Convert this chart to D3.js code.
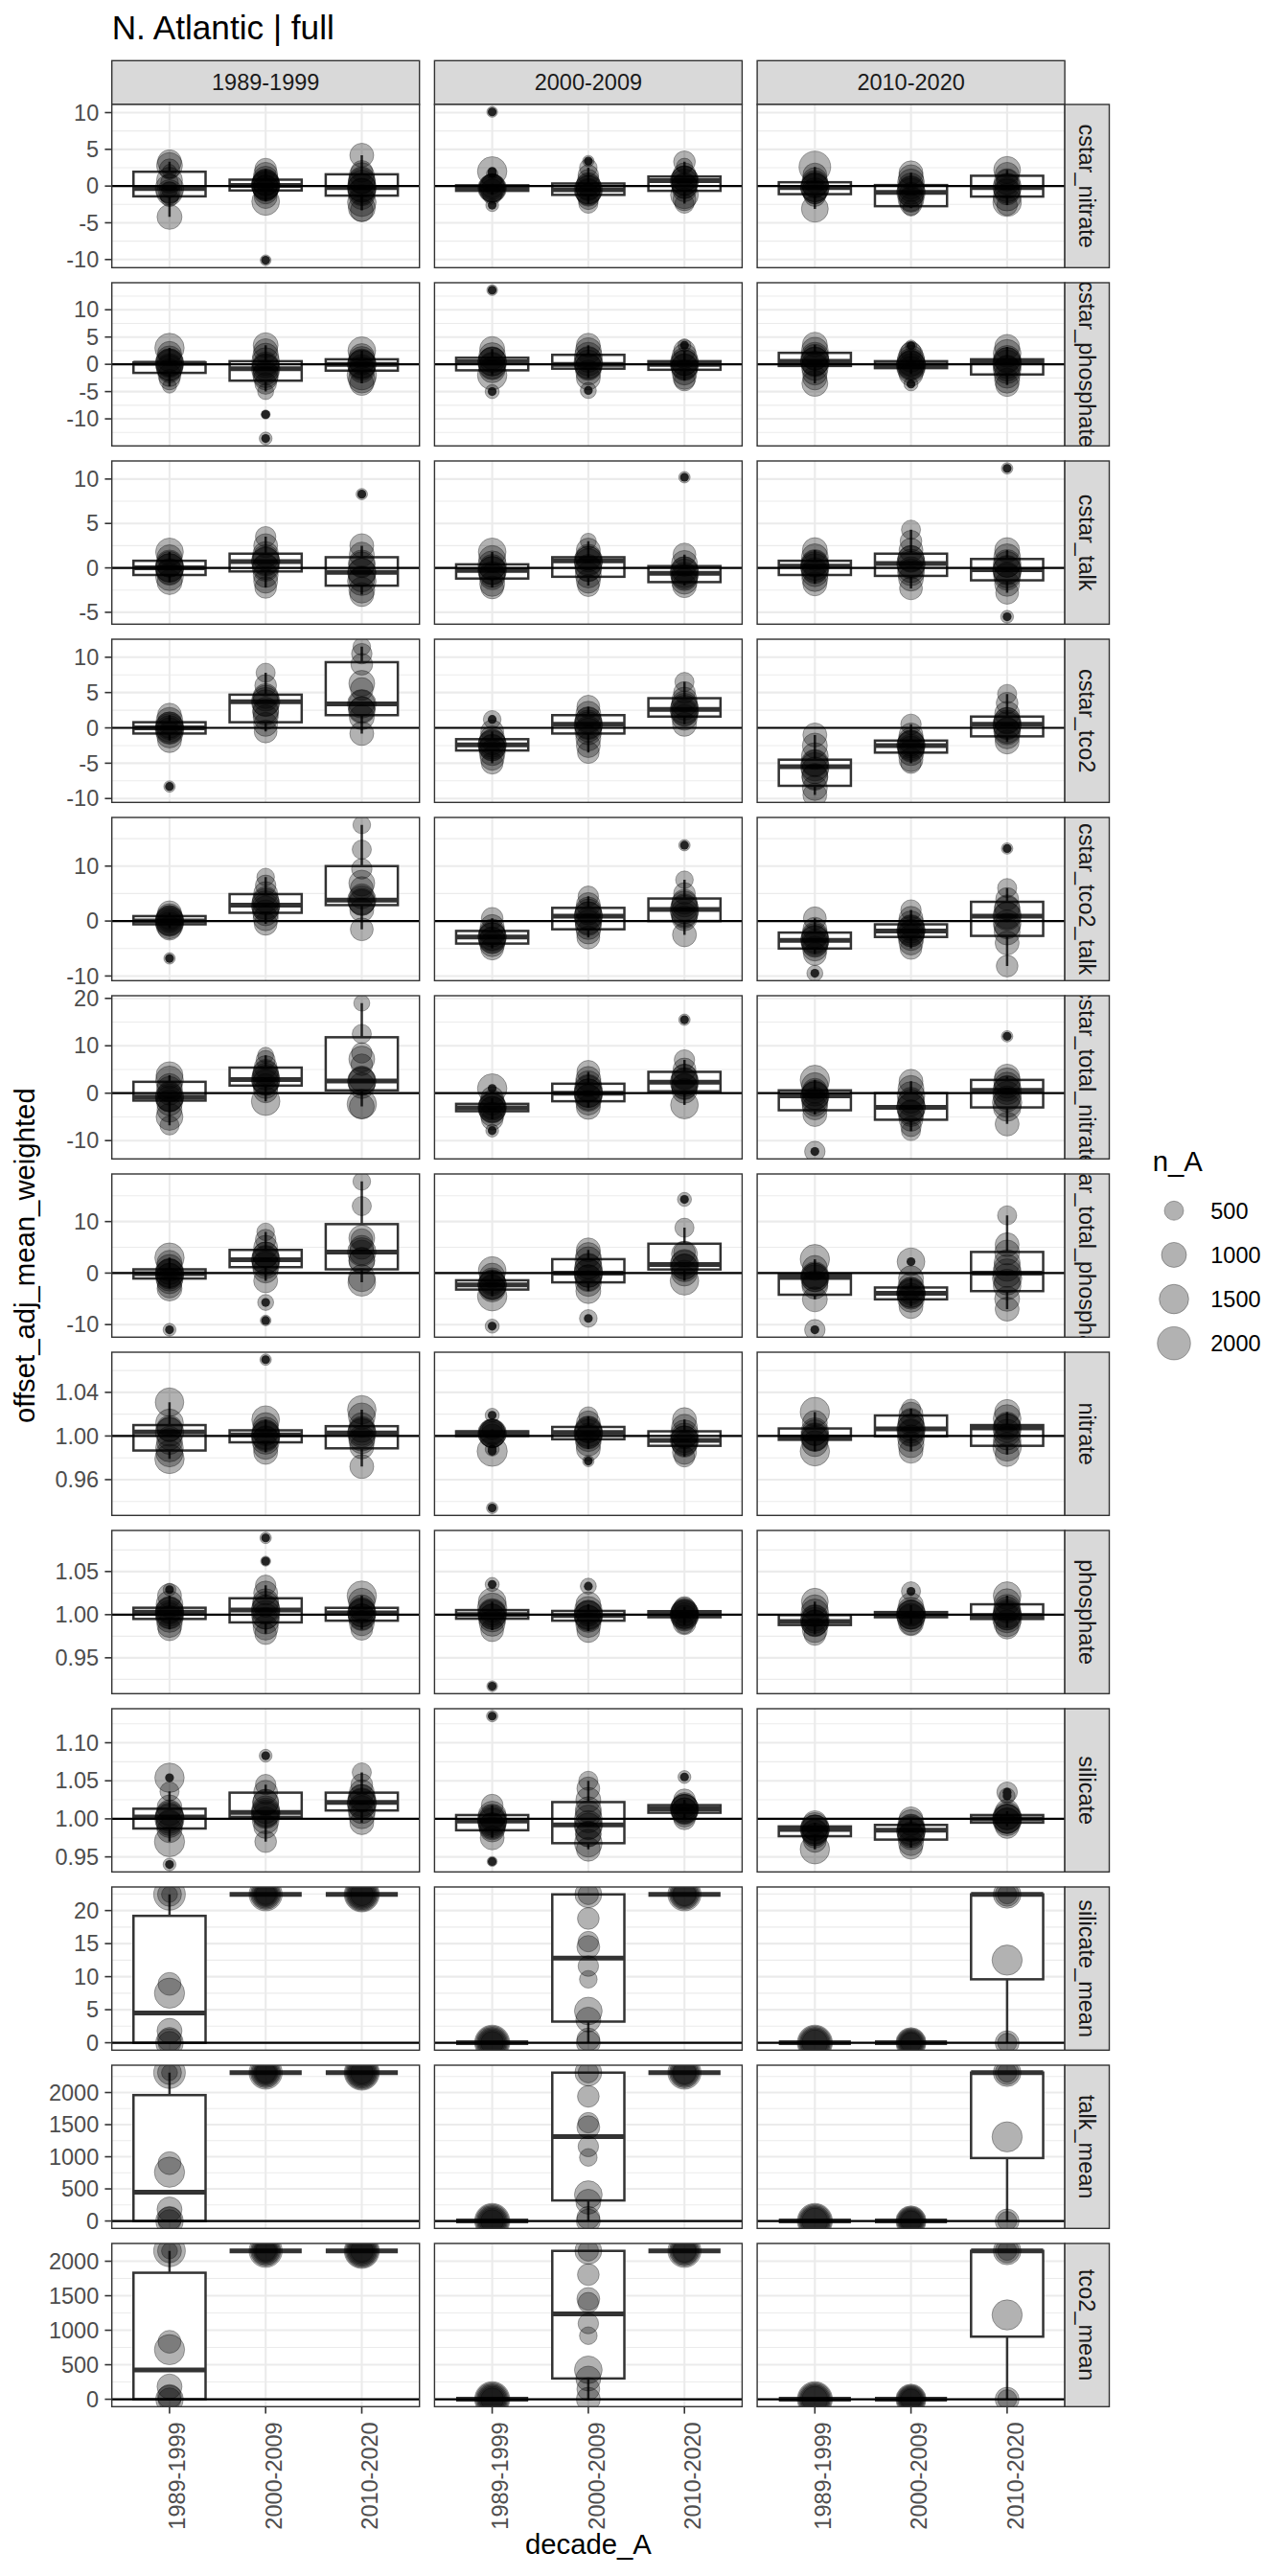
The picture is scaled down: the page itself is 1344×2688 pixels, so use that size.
<!DOCTYPE html>
<html>
<head>
<meta charset="utf-8">
<script src="https://cdn.jsdelivr.net/npm/d3@7"></script>
<style>
  body { margin: 0; background: #fff; }
  svg { display: block; }
  text { font-family: "Liberation Sans", Arial, Helvetica, sans-serif; }
</style>
</head>
<body>
<svg id="chart" width="1344" height="2688"></svg>
<script>
// ---- data --------------------------------------------------------------
const decades   = ['1989-1999', '2000-2009', '2010-2020'];
const variables = ['cstar_nitrate', 'cstar_phosphate', 'cstar_talk', 'cstar_tco2', 'cstar_tco2_talk',
                   'cstar_total_nitrate', 'cstar_total_phosphate', 'nitrate', 'phosphate', 'silicate',
                   'silicate_mean', 'talk_mean', 'tco2_mean'];
const refLines  = [0, 0, 0, 0, 0, 0, 0, 1, 1, 1, 0, 0, 0];
const yTicks    = [
  [-10, -5, 0, 5, 10], [-10, -5, 0, 5, 10], [-5, 0, 5, 10], [-10, -5, 0, 5, 10], [-10, 0, 10],
  [-10, 0, 10, 20], [-10, 0, 10], [0.96, 1.00, 1.04], [0.95, 1.00, 1.05], [0.95, 1.00, 1.05, 1.10],
  [0, 5, 10, 15, 20], [0, 500, 1000, 1500, 2000], [0, 500, 1000, 1500, 2000]
];
const sizeBreaks = [500, 1000, 1500, 2000];

// box quartiles [q1, median, q3]: facet column (decade_B) -> decade_A
// points [value, n_A]: facet column -> decade_A -> list
const cstar_nitrate_box = [
  [[-1.4, -0.35, 1.95], [-0.6, 0.1, 0.87], [-1.3, -0.2, 1.6]],
  [[-0.65, -0.3, 0.1], [-1.2, -0.5, 0.35], [-0.65, 0.74, 1.3]],
  [[-1.1, -0.22, 0.52], [-2.74, -0.87, 0.13], [-1.43, -0.2, 1.4]]
];
const cstar_nitrate_pts = [
  [[[3.3,900],[2.8,1100],[2.3,600],[2.0,200],[0.5,400],[-0.5,300],[-0.9,700],[-1.2,500],[-1.6,400],[-4.2,1000],[-0.35,1400],[-0.9,1100],[0.8,1100]],
   [[2.3,700],[1.6,900],[1.0,1000],[0.5,1200],[0.2,1400],[0,1300],[-0.3,1100],[-0.8,900],[-1.5,800],[-2.1,1300],[-10.1,80],[0.1,1400],[-0.25,1100],[0.5,1100]],
   [[4.2,900],[2.0,700],[1.5,1000],[0.8,1200],[0.3,1300],[-0.3,1400],[-0.8,1300],[-1.5,1000],[-2.2,1400],[-3.0,1200],[-3.3,800],[-0.2,1400],[-0.75,1100],[0.7,1100]]],
  [[[10.1,80],[2.0,1500],[1.7,100],[0.3,600],[0,900],[-0.3,1200],[-0.6,800],[-1.2,500],[-2.6,150],[-0.3,1400],[-0.45,1100],[-0.1,1100]],
   [[3.4,100],[2.5,400],[1.5,600],[0.8,700],[0.2,900],[-0.3,1000],[-0.7,1100],[-1.2,800],[-1.8,600],[-2.4,500],[-0.5,1400],[-0.85,1100],[-0.1,1100]],
   [[3.3,700],[2.7,300],[1.6,800],[1.0,1100],[0.5,1200],[0,1000],[-0.5,900],[-1.2,1300],[-1.8,800],[-2.4,500],[0.74,1400],[0.05,1100],[1.0,1100]]],
  [[[2.6,1800],[1.5,900],[0.8,1000],[0.3,1200],[-0.2,1400],[-0.8,900],[-1.3,700],[-3.1,1200],[-0.22,1400],[-0.65,1100],[0.15,1100]],
   [[1.8,900],[1.2,1000],[0.5,1200],[0,1100],[-0.6,1300],[-1.2,1000],[-1.8,900],[-2.5,700],[-3.0,300],[-0.87,1400],[-1.8,1100],[-0.35,1100]],
   [[2.2,1200],[1.6,900],[0.8,700],[0,1000],[-0.6,1100],[-1.5,1300],[-2.2,1400],[-2.6,600],[-0.2,1400],[-0.8,1100],[0.6,1100]]]
];

const cstar_phosphate_box = [
  [[-1.57, 0.2, 0.35], [-3.0, -0.8, 0.57], [-1.16, 0, 0.92]],
  [[-1.1, 0.47, 1.2], [-0.8, 0, 1.74], [-1.0, 0, 0.57]],
  [[-0.3, 0.57, 2.1], [-0.7, -0.1, 0.57], [-1.86, 0.46, 0.92]]
];
const cstar_phosphate_pts = [
  [[[3.0,1500],[2.0,900],[1.0,1100],[0.3,1300],[-0.5,1200],[-1.2,900],[-2.0,800],[-2.8,600],[-4.0,200],[0.2,1400],[-0.7,1100],[0.28,1100]],
   [[3.5,1000],[2.5,900],[1.5,1100],[0.5,1300],[-0.5,1200],[-1.5,1000],[-2.5,900],[-3.5,700],[-5.0,300],[-9.2,40],[-13.6,150],[-0.8,1400],[-1.9,1100],[-0.1,1100]],
   [[2.5,1300],[1.5,1000],[0.8,1200],[0,1400],[-1.0,1100],[-2.0,1500],[-2.8,1200],[-3.5,900],[0,1400],[-0.6,1100],[0.45,1100]]],
  [[[13.6,80],[2.8,1000],[1.5,1200],[0.5,1400],[-0.3,1300],[-1.0,1100],[-2.0,1500],[-5.0,200],[0.47,1400],[-0.3,1100],[0.85,1100]],
   [[3.5,900],[2.5,1100],[1.5,1300],[0.5,1400],[-0.5,1200],[-1.5,1000],[-2.5,900],[-4.8,300],[0,1400],[-0.4,1100],[0.9,1100]],
   [[3.5,150],[2.5,700],[1.5,1000],[0.5,1300],[-0.5,1200],[-1.5,1000],[-2.5,800],[-3.0,600],[0,1400],[-0.5,1100],[0.3,1100]]],
  [[[3.6,1000],[2.5,1200],[1.5,1300],[0.5,1400],[-0.5,1200],[-1.5,1000],[-2.5,900],[-3.5,1100],[0.57,1400],[0.1,1100],[1.3,1100]],
   [[3.4,100],[2.3,600],[1.8,900],[1.0,1200],[0.3,1400],[-0.3,1500],[-1.0,1200],[-1.8,900],[-3.6,200],[-0.1,1400],[-0.4,1100],[0.25,1100]],
   [[3.2,1000],[2.0,1300],[1.0,1200],[0,1400],[-1.0,1300],[-2.0,1100],[-3.0,1000],[-3.8,800],[0.46,1400],[-0.7,1100],[0.7,1100]]]
];

const cstar_talk_box = [
  [[-0.8, 0, 0.8], [-0.4, 0.7, 1.6], [-2.0, -0.5, 1.2]],
  [[-1.2, -0.3, 0.4], [-1.0, 0.8, 1.2], [-1.6, -0.6, 0.2]],
  [[-0.8, 0.2, 0.8], [-0.9, 0.5, 1.6], [-1.4, -0.2, 1.0]]
];
const cstar_talk_pts = [
  [[[1.8,1300],[1.2,1000],[0.5,1200],[0,1400],[-0.5,1100],[-1.0,1300],[-1.6,1000],[0,1400],[-0.4,1100],[0.4,1100]],
   [[3.5,600],[2.5,900],[1.5,1100],[0.8,1300],[0,1200],[-0.8,1000],[-1.5,900],[-2.2,700],[0.7,1400],[0.15,1100],[1.15,1100]],
   [[8.3,100],[2.5,900],[1.5,1000],[0.5,1200],[-0.5,1300],[-1.5,1400],[-2.5,1100],[-3.0,900],[-0.5,1400],[-1.25,1100],[0.35,1100]]],
  [[[1.8,1300],[1.0,1200],[0.3,1400],[-0.3,1300],[-1.0,1100],[-1.8,1000],[-2.2,800],[-0.3,1400],[-0.75,1100],[0.05,1100]],
   [[3.0,300],[2.0,900],[1.2,1100],[0.6,1300],[0,1200],[-0.8,1100],[-1.5,900],[-2.0,700],[0.8,1400],[-0.1,1100],[1.0,1100]],
   [[10.2,100],[1.5,800],[0.5,1100],[-0.3,1300],[-0.9,1200],[-1.5,1100],[-2.0,900],[-0.6,1400],[-1.1,1100],[-0.2,1100]]],
  [[[2.0,1000],[1.2,1200],[0.5,1300],[0,1400],[-0.6,1200],[-1.2,1100],[-1.8,900],[0.2,1400],[-0.3,1100],[0.5,1100]],
   [[4.3,500],[3.0,700],[2.0,900],[1.0,1200],[0.3,1300],[-0.5,1200],[-1.2,1000],[-2.3,800],[0.5,1400],[-0.2,1100],[1.05,1100]],
   [[11.2,100],[2.0,1000],[1.2,1200],[0.5,1300],[-0.3,1400],[-1.0,1200],[-1.8,1000],[-2.8,800],[-5.5,150],[-0.2,1400],[-0.8,1100],[0.4,1100]]]
];

const cstar_tco2_box = [
  [[-0.8, 0, 0.8], [0.8, 3.7, 4.7], [1.8, 3.4, 9.3]],
  [[-3.2, -2.4, -1.6], [-0.8, 0.5, 1.8], [1.6, 2.6, 4.2]],
  [[-8.2, -5.5, -4.5], [-3.5, -2.5, -1.8], [-1.2, 0.5, 1.6]]
];
const cstar_tco2_pts = [
  [[[1.8,900],[1.0,1200],[0.3,1300],[-0.3,1400],[-1.0,1100],[-1.8,900],[-8.3,100],[0,1400],[-0.4,1100],[0.4,1100]],
   [[7.8,500],[6.0,700],[4.5,1000],[3.5,1200],[2.5,1100],[1.5,1000],[0.5,900],[-0.5,800],[3.7,1400],[2.2,1100],[4.2,1100]],
   [[11.5,400],[10.5,600],[9.0,700],[5.5,800],[3.5,1100],[2.5,1200],[1.5,1000],[-0.8,900],[3.4,1400],[2.6,1100],[6.3,1100]]],
  [[[1.2,400],[-0.5,800],[-1.5,1000],[-2.2,1300],[-2.8,1200],[-3.5,1100],[-4.3,900],[-5.0,700],[-2.4,1400],[-2.8,1100],[-2.0,1100]],
   [[3.0,800],[2.0,1000],[1.0,1200],[0.3,1300],[-0.5,1200],[-1.5,1000],[-2.5,900],[-3.5,700],[0.5,1400],[-0.15,1100],[1.15,1100]],
   [[6.5,500],[5.0,700],[4.0,1000],[3.0,1200],[2.2,1300],[1.5,1100],[0.5,900],[2.6,1400],[2.1,1100],[3.4,1100]]],
  [[[-1.0,900],[-2.5,1000],[-4.0,1200],[-5.0,1300],[-6.0,1200],[-7.0,1100],[-8.5,1000],[-9.5,900],[-5.5,1400],[-6.85,1100],[-5.0,1100]],
   [[0.5,600],[-1.0,900],[-1.8,1100],[-2.3,1300],[-2.8,1200],[-3.5,1100],[-4.5,900],[-5.0,600],[-2.5,1400],[-3.0,1100],[-2.15,1100]],
   [[4.8,500],[3.5,700],[2.0,1000],[1.0,1200],[0.3,1300],[-0.5,1200],[-1.2,1000],[-2.0,900],[0.5,1400],[-0.35,1100],[1.05,1100]]]
];

const cstar_tco2_talk_box = [
  [[-0.6, 0, 0.9], [1.5, 2.9, 4.9], [2.9, 3.8, 10.0]],
  [[-4.1, -2.9, -1.8], [-1.5, 0.9, 2.4], [0, 2.1, 4.1]],
  [[-5.0, -3.5, -2.1], [-2.9, -1.8, -0.6], [-2.7, 0.9, 3.5]]
];
const cstar_tco2_talk_pts = [
  [[[1.5,900],[0.8,1100],[0.3,1300],[-0.2,1400],[-0.8,1200],[-1.3,900],[-6.8,100],[0,1400],[-0.3,1100],[0.45,1100]],
   [[8.0,400],[6.5,600],[5.0,900],[3.5,1200],[2.5,1300],[1.5,1100],[0.5,1000],[-0.5,800],[2.9,1400],[2.2,1100],[3.9,1100]],
   [[17.5,400],[13.0,500],[9.5,600],[6.0,800],[4.5,1000],[3.5,1200],[2.0,900],[-1.5,800],[3.8,1400],[3.35,1100],[6.9,1100]]],
  [[[0.5,700],[-1.0,900],[-2.0,1100],[-2.8,1300],[-3.5,1200],[-4.2,1000],[-5.0,800],[-2.9,1400],[-3.5,1100],[-2.35,1100]],
   [[4.5,600],[3.0,900],[2.0,1100],[1.0,1300],[0,1200],[-1.0,1100],[-2.0,900],[-3.0,800],[0.9,1400],[-0.3,1100],[1.65,1100]],
   [[13.8,100],[7.5,400],[5.0,700],[3.5,1000],[2.5,1200],[1.5,1300],[0.5,1000],[-2.5,900],[2.1,1400],[1.05,1100],[3.1,1100]]],
  [[[0.5,800],[-1.5,900],[-2.5,1100],[-3.3,1300],[-4.0,1200],[-5.0,1000],[-6.0,800],[-9.5,300],[-3.5,1400],[-4.25,1100],[-2.8,1100]],
   [[2.0,600],[0.5,900],[-0.5,1100],[-1.5,1300],[-2.2,1200],[-3.0,1100],[-4.0,900],[-5.0,700],[-1.8,1400],[-2.35,1100],[-1.2,1100]],
   [[13.2,100],[6.0,500],[4.0,800],[2.5,1000],[1.0,1200],[-0.5,1300],[-2.0,1100],[-4.0,900],[-8.2,700],[0.9,1400],[-0.9,1100],[2.2,1100]]]
];

const cstar_total_nitrate_box = [
  [[-1.56, -0.8, 2.4], [1.6, 2.9, 5.4], [0.6, 2.55, 11.8]],
  [[-3.8, -3.1, -2.25], [-1.7, 0, 2.0], [0.4, 2.3, 4.5]],
  [[-3.6, -0.55, 0.6], [-5.6, -3.0, 0], [-3.0, 0.6, 2.8]]
];
const cstar_total_nitrate_pts = [
  [[[3.8,1200],[2.8,1300],[1.5,1000],[0,900],[-1.0,1300],[-2.0,1100],[-3.5,1000],[-5.0,1200],[-6.8,500],[-0.8,1400],[-1.2,1100],[0.8,1100]],
   [[8.0,300],[7.0,500],[5.5,800],[4.5,1000],[3.5,1200],[2.5,1300],[1.5,1000],[0.5,900],[-1.7,1400],[2.9,1400],[2.25,1100],[4.15,1100]],
   [[19.0,300],[12.5,500],[8.5,600],[6.0,700],[3.0,1100],[2.5,1300],[-2.3,1500],[-2.8,1000],[2.55,1400],[1.6,1100],[7.2,1100]]],
  [[[1.0,1500],[-1.0,800],[-2.0,1000],[-2.8,1300],[-3.5,1200],[-4.5,900],[-5.5,700],[-7.9,150],[-3.1,1400],[-3.45,1100],[-2.7,1100]],
   [[4.5,800],[3.0,1000],[2.0,1100],[1.0,1300],[0,1400],[-1.0,1200],[-2.0,1000],[-3.0,900],[0,1400],[-0.85,1100],[1.0,1100]],
   [[15.5,100],[7.0,600],[5.0,800],[3.5,1000],[2.5,1200],[1.5,1100],[0.5,1000],[-2.5,1300],[2.3,1400],[1.35,1100],[3.4,1100]]],
  [[[2.8,1500],[1.5,1200],[0.5,1000],[-0.5,1300],[-1.5,1100],[-3.0,1000],[-4.5,900],[-12.3,600],[-0.55,1400],[-2.1,1100],[0.0,1100]],
   [[2.5,900],[1.0,1100],[-0.5,1300],[-2.0,1200],[-3.0,1400],[-4.0,1000],[-5.5,900],[-7.0,600],[-8.0,500],[-3.0,1400],[-4.3,1100],[-1.5,1100]],
   [[12.0,100],[3.5,1000],[2.5,1200],[1.0,1100],[-0.5,1400],[-2.0,1500],[-3.0,1300],[-6.5,900],[0.6,1400],[-1.2,1100],[1.7,1100]]]
];

const cstar_total_phosphate_box = [
  [[-1.06, -0.1, 0.73], [1.15, 2.6, 4.5], [0.73, 4.1, 9.5]],
  [[-3.2, -2.3, -1.4], [-1.8, 0, 2.7], [0.7, 1.65, 5.7]],
  [[-4.2, -0.85, -0.35], [-5.1, -3.9, -2.8], [-3.5, 0, 4.1]]
];
const cstar_total_phosphate_pts = [
  [[[3.0,1500],[2.0,1000],[1.0,1200],[0,1400],[-0.8,1300],[-1.5,1100],[-2.5,900],[-3.0,1000],[-11.0,150],[-0.1,1400],[-0.6,1100],[0.3,1100]],
   [[8.0,400],[6.5,600],[5.0,900],[3.5,1100],[2.5,1300],[1.5,1200],[0.5,1000],[-1.5,900],[-5.7,300],[-9.2,80],[2.6,1400],[1.9,1100],[3.55,1100]],
   [[17.8,400],[13.0,500],[6.5,700],[5.0,900],[4.0,1000],[2.5,1100],[-1.0,1200],[-1.8,1300],[4.1,1400],[2.4,1100],[6.8,1100]]],
  [[[0.5,1300],[-0.5,1000],[-1.5,1100],[-2.3,1400],[-3.0,1200],[-4.5,1500],[-10.3,200],[-2.3,1400],[-2.75,1100],[-1.85,1100]],
   [[4.5,900],[3.5,1000],[2.5,1200],[1.0,1300],[0,1400],[-1.0,1200],[-2.0,1100],[-3.5,1000],[-8.8,400],[0,1400],[-0.9,1100],[1.35,1100]],
   [[14.3,200],[8.8,500],[4.0,700],[2.0,1200],[1.0,1300],[0,1100],[-1.5,1400],[1.65,1400],[1.2,1100],[3.7,1100]]],
  [[[2.7,1500],[1.0,1000],[-0.5,1300],[-1.0,1200],[-2.0,1100],[-5.1,1000],[-11.0,600],[-0.85,1400],[-2.5,1100],[-0.6,1100]],
   [[2.2,1300],[-1.0,1000],[-2.5,1100],[-3.5,1300],[-4.0,1400],[-5.0,1200],[-6.5,900],[-3.9,1400],[-4.5,1100],[-3.35,1100]],
   [[11.2,500],[5.5,900],[4.0,1000],[1.0,1200],[-1.0,1500],[-2.5,1300],[-5.0,1000],[-7.0,900],[0,1400],[-1.75,1100],[2.05,1100]]]
];

const nitrate_box = [
  [[0.9867, 1.0037, 1.0100], [0.9942, 1.001, 1.0052], [0.9887, 1.0027, 1.009]],
  [[1.000, 1.0027, 1.0043], [0.997, 1.0033, 1.0083], [0.991, 0.996, 1.0043]],
  [[0.9965, 0.999, 1.0069], [0.9997, 1.0065, 1.0188], [0.991, 1.0073, 1.010]]
];
const nitrate_pts = [
  [[[1.031,1400],[1.012,1300],[1.006,1000],[0.998,900],[0.989,1300],[0.984,1200],[0.979,1500],[1.0037,1400],[0.995,1100],[1.007,1100]],
   [[1.070,100],[1.015,1300],[1.010,1000],[1.005,1200],[1.000,1400],[0.996,1300],[0.990,1000],[0.985,900],[1.001,1400],[0.9976,1100],[1.003,1100]],
   [[1.024,1400],[1.018,1200],[1.010,1000],[1.004,1300],[0.998,1100],[0.990,900],[0.972,900],[1.0027,1400],[0.9957,1100],[1.006,1100]]],
  [[[1.019,200],[1.006,600],[1.004,1000],[1.002,1300],[1.000,900],[0.988,200],[0.986,1600],[0.934,100],[1.0027,1400],[1.0013,1100],[1.0035,1100]],
   [[1.018,500],[1.012,900],[1.006,1200],[1.002,1400],[0.998,1200],[0.993,1000],[0.988,900],[0.977,100],[1.0033,1400],[1.0,1100],[1.0058,1100]],
   [[1.015,900],[1.008,1100],[1.002,1300],[0.997,1200],[0.992,1000],[0.985,900],[0.981,600],[0.996,1400],[0.9935,1100],[1.0,1100]]],
  [[[1.022,1500],[1.012,1000],[1.004,1300],[0.999,1200],[0.993,1100],[0.986,1500],[0.999,1400],[0.9978,1100],[1.003,1100]],
   [[1.025,500],[1.020,900],[1.014,1000],[1.008,1200],[1.003,1300],[0.998,1200],[0.992,1100],[0.986,900],[1.0065,1400],[1.003,1100],[1.0125,1100]],
   [[1.022,1000],[1.016,1300],[1.010,1100],[1.003,1200],[0.996,1300],[0.990,1400],[0.983,900],[1.0073,1400],[0.999,1100],[1.0085,1100]]]
];

const phosphate_box = [
  [[0.995, 1.003, 1.008], [0.991, 1.0053, 1.019], [0.993, 1.002, 1.0079]],
  [[0.9953, 1.0, 1.0053], [0.993, 0.999, 1.0043], [0.997, 1.0005, 1.004]],
  [[0.988, 0.992, 0.9995], [0.997, 1.0, 1.003], [0.995, 0.999, 1.012]]
];
const phosphate_pts = [
  [[[1.029,150],[1.022,900],[1.012,1200],[1.005,1300],[1.000,1400],[0.995,1200],[0.988,1000],[0.983,800],[1.003,1400],[0.999,1100],[1.0055,1100]],
   [[1.089,100],[1.062,60],[1.034,600],[1.025,900],[1.015,1100],[1.007,1300],[1.000,1400],[0.993,1200],[0.985,1000],[0.978,700],[1.0053,1400],[0.998,1100],[1.012,1100]],
   [[1.022,1500],[1.015,1200],[1.008,1100],[1.002,1300],[0.997,1200],[0.990,1000],[0.983,700],[1.002,1400],[0.9975,1100],[1.005,1100]]],
  [[[1.035,200],[1.015,1300],[1.008,1500],[1.002,1400],[0.996,1300],[0.990,1100],[0.982,800],[0.917,80],[1.0,1400],[0.9977,1100],[1.0027,1100]],
   [[1.033,300],[1.012,1000],[1.005,1300],[1.000,1400],[0.995,1200],[0.988,1000],[0.981,800],[0.999,1400],[0.996,1100],[1.0017,1100]],
   [[1.009,600],[1.005,1000],[1.002,1300],[0.999,1400],[0.996,1100],[0.990,800],[0.988,400],[1.0005,1400],[0.9988,1100],[1.0022,1100]]],
  [[[1.015,1200],[1.008,1100],[1.002,1300],[0.995,1400],[0.990,1200],[0.982,1000],[0.977,700],[0.992,1400],[0.99,1100],[0.9958,1100]],
   [[1.027,500],[1.011,1000],[1.004,1300],[1.000,1500],[0.996,1300],[0.990,1000],[0.989,700],[1.0,1400],[0.9985,1100],[1.0015,1100]],
   [[1.022,1300],[1.015,1100],[1.008,1200],[1.001,1400],[0.996,1500],[0.990,1200],[0.985,800],[0.999,1400],[0.997,1100],[1.0055,1100]]]
];

const silicate_box = [
  [[0.9873, 1.0023, 1.0133], [1.0026, 1.0085, 1.0344], [1.011, 1.0217, 1.0344]],
  [[0.985, 0.997, 1.005], [0.968, 0.992, 1.022], [1.008, 1.013, 1.018]],
  [[0.9772, 0.986, 0.990], [0.9727, 0.985, 0.992], [0.995, 1.000, 1.005]]
];
const silicate_pts = [
  [[[1.054,1500],[1.036,500],[1.015,1000],[1.005,1300],[1.000,1500],[0.993,1200],[0.985,1000],[0.970,1600],[0.940,150],[1.0023,1400],[0.995,1100],[1.008,1100]],
   [[1.083,150],[1.045,600],[1.035,900],[1.022,1100],[1.012,1300],[1.006,1400],[0.998,1200],[0.990,900],[0.970,700],[1.0085,1400],[1.0055,1100],[1.0215,1100]],
   [[1.061,500],[1.045,700],[1.035,1000],[1.027,1300],[1.020,1500],[1.012,1300],[1.004,1100],[0.995,900],[1.0217,1400],[1.0163,1100],[1.028,1100]]],
  [[[1.135,100],[1.018,700],[1.005,1300],[1.000,1500],[0.995,1400],[0.990,1200],[0.986,1000],[0.975,900],[0.944,60],[0.997,1400],[0.991,1100],[1.001,1100]],
   [[1.050,500],[1.040,800],[1.025,1000],[1.012,1100],[1.000,1300],[0.990,1200],[0.980,1000],[0.968,1300],[0.960,900],[0.992,1400],[0.98,1100],[1.007,1100]],
   [[1.055,150],[1.025,700],[1.018,1000],[1.014,1300],[1.010,1200],[1.005,900],[1.000,700],[1.013,1400],[1.0105,1100],[1.0155,1100]]],
  [[[0.995,900],[0.990,1300],[0.986,1500],[0.982,1200],[0.978,1000],[0.971,800],[0.960,1500],[0.986,1400],[0.9816,1100],[0.988,1100]],
   [[1.000,900],[0.995,1100],[0.988,1300],[0.983,1400],[0.977,1200],[0.968,1000],[0.962,800],[0.985,1400],[0.979,1100],[0.9885,1100]],
   [[1.035,600],[1.030,300],[1.010,900],[1.004,1300],[1.000,1500],[0.996,1300],[0.990,900],[1.0,1400],[0.9975,1100],[1.0025,1100]]]
];

const silicate_mean_box = [
  [[0, 4.5, 19.2], [22.45, 22.45, 22.45], [22.45, 22.45, 22.45]],
  [[0, 0, 0], [3.2, 12.8, 22.45], [22.45, 22.45, 22.45]],
  [[0, 0, 0], [0, 0, 0], [9.6, 22.45, 22.45]]
];
const silicate_mean_pts = [
  [[[22.45,1800],[22.45,900],[22.45,300],[8.9,800],[7.5,1600],[1.8,1000],[0.5,900],[0,1300],[0,800]],
   [[22.45,2000],[22.45,1600],[22.45,1300],[22.45,1000],[22.45,800],[22.45,600]],
   [[22.45,2300],[22.45,2000],[22.45,1700],[22.45,1400],[22.45,1100],[22.45,800]]],
  [[[0,2300],[0,2000],[0,1700],[0,1400],[0,1100],[0,800]],
   [[22.45,1200],[22.45,600],[18.8,700],[15.3,600],[14.5,800],[11.6,600],[9.6,400],[4.8,1300],[3.5,1000],[0.5,800],[0,900]],
   [[22.45,2000],[22.45,1600],[22.45,1300],[22.45,1000],[22.45,800]]],
  [[[0,2300],[0,2000],[0,1700],[0,1400],[0,1100]],
   [[0,1600],[0,1400],[0,1200],[0,1000],[0,800],[0,600]],
   [[22.45,1300],[22.45,900],[22.45,500],[12.5,1600],[0,900],[0,500]]]
];

const talk_mean_box = [
  [[0, 450, 1960], [2310, 2310, 2310], [2310, 2310, 2310]],
  [[0, 0, 0], [320, 1315, 2310], [2310, 2310, 2310]],
  [[0, 0, 0], [0, 0, 0], [980, 2310, 2310]]
];
const talk_mean_pts = [
  [[[2310,1800],[2310,900],[2310,300],[900,800],[760,1600],[180,1000],[40,900],[0,1300],[0,800]],
   [[2310,2000],[2310,1600],[2310,1300],[2310,1000],[2310,800],[2310,600]],
   [[2310,2300],[2310,2000],[2310,1700],[2310,1400],[2310,1100],[2310,800]]],
  [[[0,2300],[0,2000],[0,1700],[0,1400],[0,1100],[0,800]],
   [[2310,1200],[2310,600],[1940,700],[1530,600],[1460,800],[1160,600],[990,400],[410,1300],[300,1000],[50,800],[0,900]],
   [[2310,2000],[2310,1600],[2310,1300],[2310,1000],[2310,800]]],
  [[[0,2300],[0,2000],[0,1700],[0,1400],[0,1100]],
   [[0,1600],[0,1400],[0,1200],[0,1000],[0,800],[0,600]],
   [[2310,1300],[2310,900],[2310,500],[1310,1600],[0,900],[0,500]]]
];

const tco2_mean_box = [
  [[0, 426, 1833], [2150, 2150, 2150], [2150, 2150, 2150]],
  [[0, 0, 0], [301, 1236, 2150], [2150, 2150, 2150]],
  [[0, 0, 0], [0, 0, 0], [907, 2150, 2150]]
];
const tco2_mean_pts = [
  [[[2150,1800],[2150,900],[2150,300],[833,800],[718,1600],[185,1000],[40,900],[0,1300],[0,800]],
   [[2150,2000],[2150,1600],[2150,1300],[2150,1000],[2150,800],[2150,600]],
   [[2150,2300],[2150,2000],[2150,1700],[2150,1400],[2150,1100],[2150,800]]],
  [[[0,2300],[0,2000],[0,1700],[0,1400],[0,1100],[0,800]],
   [[2150,1200],[2150,600],[1806,700],[1454,800],[1400,600],[1097,600],[921,400],[426,1300],[300,1000],[148,800],[0,900]],
   [[2150,2000],[2150,1600],[2150,1300],[2150,1000],[2150,800]]],
  [[[0,2300],[0,2000],[0,1700],[0,1400],[0,1100]],
   [[0,1600],[0,1400],[0,1200],[0,1000],[0,800],[0,600]],
   [[2150,1300],[2150,900],[2150,500],[1222,1600],[0,900],[0,500]]]
];

// lookup tables built from the arrays above
const boxData = {
  cstar_nitrate: cstar_nitrate_box, cstar_phosphate: cstar_phosphate_box, cstar_talk: cstar_talk_box,
  cstar_tco2: cstar_tco2_box, cstar_tco2_talk: cstar_tco2_talk_box, cstar_total_nitrate: cstar_total_nitrate_box,
  cstar_total_phosphate: cstar_total_phosphate_box, nitrate: nitrate_box, phosphate: phosphate_box,
  silicate: silicate_box, silicate_mean: silicate_mean_box, talk_mean: talk_mean_box, tco2_mean: tco2_mean_box
};
const pointData = {
  cstar_nitrate: cstar_nitrate_pts, cstar_phosphate: cstar_phosphate_pts, cstar_talk: cstar_talk_pts,
  cstar_tco2: cstar_tco2_pts, cstar_tco2_talk: cstar_tco2_talk_pts, cstar_total_nitrate: cstar_total_nitrate_pts,
  cstar_total_phosphate: cstar_total_phosphate_pts, nitrate: nitrate_pts, phosphate: phosphate_pts,
  silicate: silicate_pts, silicate_mean: silicate_mean_pts, talk_mean: talk_mean_pts, tco2_mean: tco2_mean_pts
};

// ---- layout ------------------------------------------------------------
const layout = { left: 116.7, top: 109, pw: 321, ph: 170.3, gx: 15.7, gy: 15.7, stripH: 45.7, stripW: 46.4 };
const C = { border: '#333333', grid: '#ebebeb', strip: '#d9d9d9', tick: '#4d4d4d', text: '#1a1a1a' };

let svg = d3.select('#chart');
let defs = svg.append('defs');
defs.append('clipPath').attr('id', 'panelClip')
    .append('rect').attr('width', layout.pw).attr('height', layout.ph);
defs.append('clipPath').attr('id', 'stripClip')
    .append('rect').attr('width', layout.stripW).attr('height', layout.ph);

let x = d3.scalePoint().domain(decades).range([0, layout.pw]).padding(0.6);
let boxW = 0.75 * x.step();
let rSize = d3.scaleSqrt().domain([0, 2000]).range([0, 14.6]);
let radius = n => 2.7 + rSize(n);

let panelX = c => layout.left + c * (layout.pw + layout.gx);
let panelY = r => layout.top + r * (layout.ph + layout.gy);
let fmt = (ticks) => ticks.some(t => !Number.isInteger(t)) ? (v => v.toFixed(2)) : (v => String(v));

/**
 * ggplot style box statistics: whiskers run to the furthest point inside 1.5 IQR
 */
function boxStats (q, pts) {
  let [q1, med, q3] = q,
      iqr = q3 - q1,
      loF = q1 - 1.5 * iqr - 1e-9,
      hiF = q3 + 1.5 * iqr + 1e-9,
      inside = pts.map(p => p[0]).filter(v => v >= loF && v <= hiF);
  return {
    q1, med, q3,
    lo : Math.min(q1, d3.min(inside) ?? q1),
    hi : Math.max(q3, d3.max(inside) ?? q3),
    out: pts.map(p => p[0]).filter(v => v < loF || v > hiF)
  };
}

// Title
svg.append('text').attr('x', layout.left).attr('y', 41)
   .attr('font-size', 35.2).attr('fill', '#000').text('N. Atlantic | full');

// Column strips
decades.forEach((d, c) => {
  let g = svg.append('g').attr('transform', `translate(${panelX(c)},${layout.top - layout.stripH})`);
  g.append('rect').attr('width', layout.pw).attr('height', layout.stripH)
   .attr('fill', C.strip).attr('stroke', C.border).attr('stroke-width', 1.4);
  g.append('text').attr('x', layout.pw / 2).attr('y', layout.stripH / 2).attr('dy', '0.35em')
   .attr('text-anchor', 'middle').attr('font-size', 23.5).attr('fill', C.text).text(d);
});

variables.forEach((v, r) => {
  let boxes = boxData[v],
      pts   = pointData[v];

  // free y scale per row, 5% expansion like ggplot
  let vals = [];
  boxes.forEach((panel, p) => panel.forEach((q, c) => vals.push(...q, ...pts[p][c].map(d => d[0]))));
  let [mn, mx] = d3.extent(vals),
      pad = (mx - mn) * 0.05,
      y = d3.scaleLinear().domain([mn - pad, mx + pad]).range([layout.ph, 0]);

  let majors = yTicks[r],
      step = majors[1] - majors[0],
      minors = [majors[0] - step / 2, ...majors.map(t => t + step / 2)]
          .filter(t => t >= y.domain()[0] && t <= y.domain()[1]),
      label = fmt(majors);

  decades.forEach((dB, p) => {
    let g = svg.append('g').attr('transform', `translate(${panelX(p)},${panelY(r)})`);
    g.append('rect').attr('width', layout.pw).attr('height', layout.ph).attr('fill', '#fff');
    let inner = g.append('g').attr('clip-path', 'url(#panelClip)');

    // grid
    inner.selectAll('.minor').data(minors).join('line')
        .attr('x1', 0).attr('x2', layout.pw).attr('y1', d => y(d)).attr('y2', d => y(d))
        .attr('stroke', C.grid).attr('stroke-width', 1.1);
    inner.selectAll('.major').data(majors).join('line')
        .attr('x1', 0).attr('x2', layout.pw).attr('y1', d => y(d)).attr('y2', d => y(d))
        .attr('stroke', C.grid).attr('stroke-width', 2.1);
    inner.selectAll('.vgrid').data(decades).join('line')
        .attr('x1', d => x(d)).attr('x2', d => x(d)).attr('y1', 0).attr('y2', layout.ph)
        .attr('stroke', C.grid).attr('stroke-width', 2.1);

    // boxplots
    decades.forEach((dA, c) => {
      let s  = boxStats(boxes[p][c], pts[p][c]),
          cx = x(dA),
          bg = inner.append('g');
      bg.append('line').attr('x1', cx).attr('x2', cx).attr('y1', y(s.q3)).attr('y2', y(s.hi))
        .attr('stroke', C.border).attr('stroke-width', 2.5);
      bg.append('line').attr('x1', cx).attr('x2', cx).attr('y1', y(s.q1)).attr('y2', y(s.lo))
        .attr('stroke', C.border).attr('stroke-width', 2.5);
      bg.append('rect').attr('x', cx - boxW / 2).attr('y', y(s.q3))
        .attr('width', boxW).attr('height', Math.max(0, y(s.q1) - y(s.q3)))
        .attr('fill', '#fff').attr('stroke', C.border).attr('stroke-width', 2.5);
      bg.append('line').attr('x1', cx - boxW / 2).attr('x2', cx + boxW / 2)
        .attr('y1', y(s.med)).attr('y2', y(s.med))
        .attr('stroke', C.border).attr('stroke-width', 5);
      bg.selectAll('circle').data(s.out).join('circle')
        .attr('cx', cx).attr('cy', d => y(d)).attr('r', 4.6).attr('fill', C.border);
    });

    // reference line
    inner.append('line').attr('x1', 0).attr('x2', layout.pw)
        .attr('y1', y(refLines[r])).attr('y2', y(refLines[r]))
        .attr('stroke', '#000').attr('stroke-width', 2.2);

    // points sized by n_A
    decades.forEach((dA, c) => {
      inner.append('g').selectAll('circle').data(pts[p][c]).join('circle')
          .attr('cx', x(dA)).attr('cy', d => y(d[0])).attr('r', d => radius(d[1]))
          .attr('fill', '#000').attr('fill-opacity', 0.3)
          .attr('stroke', '#000').attr('stroke-opacity', 0.3).attr('stroke-width', 1);
    });

    g.append('rect').attr('width', layout.pw).attr('height', layout.ph)
     .attr('fill', 'none').attr('stroke', C.border).attr('stroke-width', 1.4);

    // y axis on the first column
    if (p === 0) {
      let ax = g.append('g');
      ax.selectAll('line').data(majors).join('line')
        .attr('x1', -7.3).attr('x2', 0).attr('y1', d => y(d)).attr('y2', d => y(d))
        .attr('stroke', C.border).attr('stroke-width', 1.6);
      ax.selectAll('text').data(majors).join('text')
        .attr('x', -13.5).attr('y', d => y(d)).attr('dy', '0.35em')
        .attr('text-anchor', 'end').attr('font-size', 23.5).attr('fill', C.tick)
        .text(d => label(d));
    }

    // x axis on the bottom row
    if (r === variables.length - 1) {
      let ax = g.append('g');
      ax.selectAll('line').data(decades).join('line')
        .attr('x1', d => x(d)).attr('x2', d => x(d)).attr('y1', layout.ph).attr('y2', layout.ph + 7.3)
        .attr('stroke', C.border).attr('stroke-width', 1.6);
      ax.selectAll('text').data(decades).join('text')
        .attr('transform', d => `translate(${x(d) + 16.6},${layout.ph + 16}) rotate(-90)`)
        .attr('text-anchor', 'end').attr('font-size', 23.5).attr('fill', C.tick)
        .text(d => d);
    }
  });

  // row strip on the right, text clipped to the strip
  let sx = panelX(2) + layout.pw,
      sg = svg.append('g').attr('transform', `translate(${sx},${panelY(r)})`);
  sg.append('rect').attr('width', layout.stripW).attr('height', layout.ph)
    .attr('fill', C.strip).attr('stroke', C.border).attr('stroke-width', 1.4);
  sg.append('g').attr('clip-path', 'url(#stripClip)')
    .append('text')
    .attr('transform', `translate(${layout.stripW / 2},${layout.ph / 2}) rotate(90)`)
    .attr('dy', '0.35em').attr('text-anchor', 'middle')
    .attr('font-size', 23.5).attr('fill', C.text).text(v);
});

// Axis titles
svg.append('text').attr('x', (layout.left + panelX(2) + layout.pw) / 2).attr('y', 2665)
   .attr('text-anchor', 'middle').attr('font-size', 29.3).attr('fill', '#000').text('decade_A');
svg.append('text').attr('transform', `translate(36,${(layout.top + panelY(12) + layout.ph) / 2}) rotate(-90)`)
   .attr('text-anchor', 'middle').attr('font-size', 29.3).attr('fill', '#000').text('offset_adj_mean_weighted');

// Size legend
let lg = svg.append('g');
lg.append('text').attr('x', 1202.7).attr('y', 1221.7).attr('font-size', 29.3).attr('fill', '#000').text('n_A');
let keyY = d3.scalePoint().domain(sizeBreaks).range([1263.3, 1401.7]);
lg.selectAll('circle').data(sizeBreaks).join('circle')
  .attr('cx', 1225).attr('cy', d => keyY(d)).attr('r', d => radius(d))
  .attr('fill', '#000').attr('fill-opacity', 0.3)
  .attr('stroke', '#000').attr('stroke-opacity', 0.3).attr('stroke-width', 1);
lg.selectAll('.lab').data(sizeBreaks).join('text')
  .attr('x', 1263.3).attr('y', d => keyY(d)).attr('dy', '0.35em')
  .attr('font-size', 23.5).attr('fill', '#000').text(d => d);
</script>
</body>
</html>
